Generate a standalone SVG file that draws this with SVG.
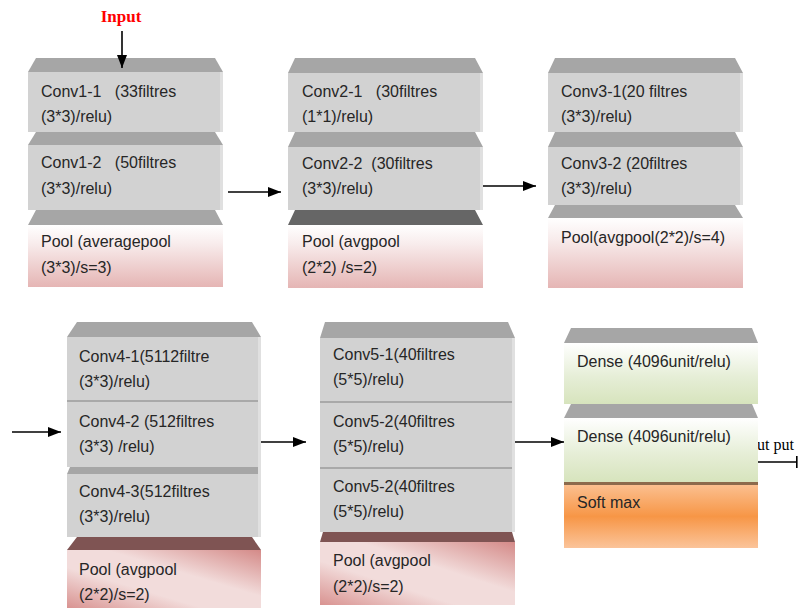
<svg xmlns="http://www.w3.org/2000/svg" width="799" height="609" viewBox="0 0 799 609">
  <style>
    .body { fill: #d2d2d2; }
    .edge { fill: #e0e0e0; }
    .bevel { fill: #a6a6a6; }
    .dark { fill: #666666; }
    .wine { fill: #7f5453; }
    .sep { fill: #a9a9a9; }
    .lbl { font-family: "Liberation Sans", Arial, sans-serif; font-size: 16px; fill: #262626; }
    .wire { stroke: #000; stroke-width: 1.6; fill: none; }
  </style>
  <defs>
    <marker id="head" markerUnits="userSpaceOnUse" markerWidth="14" markerHeight="10" refX="13" refY="5" orient="auto">
      <path d="M0,0 L13,5 L0,10 Z" fill="#000"/>
    </marker>
    <marker id="bar" markerUnits="userSpaceOnUse" markerWidth="4" markerHeight="12" refX="2" refY="6" orient="auto">
      <rect x="1" y="0" width="1.6" height="12" fill="#000"/>
    </marker>
    <linearGradient id="pinkFade" x1="0" y1="0" x2="0" y2="1">
      <stop offset="0" stop-color="#ffffff"/>
      <stop offset="0.3" stop-color="#f8ecec"/>
      <stop offset="1" stop-color="#e5b5b4"/>
    </linearGradient>
    <linearGradient id="pinkSheen" x1="0" y1="1" x2="1" y2="0">
      <stop offset="0" stop-color="#d99391"/>
      <stop offset="0.35" stop-color="#f2dcdb"/>
      <stop offset="0.6" stop-color="#f2dcdb"/>
      <stop offset="1" stop-color="#d48a88"/>
    </linearGradient>
    <linearGradient id="greenFade" x1="0" y1="0" x2="0" y2="1">
      <stop offset="0" stop-color="#ffffff"/>
      <stop offset="0.55" stop-color="#e6eed7"/>
      <stop offset="1" stop-color="#d7e4bd"/>
    </linearGradient>
    <linearGradient id="orangeBand" x1="0" y1="0" x2="0" y2="1">
      <stop offset="0" stop-color="#fbbf8f"/>
      <stop offset="0.5" stop-color="#f79646"/>
      <stop offset="1" stop-color="#fbc49a"/>
    </linearGradient>
  </defs>

  <!-- output label sits behind the dense block -->
  <text x="794" y="450" text-anchor="end" font-family="'Liberation Serif', 'Times New Roman', serif" font-size="16" fill="#000">Out put</text>

  <!-- Block 1 -->
  <g id="block1">
    <polygon class="bevel" points="36,58 215,58 223,72 28,72"/>
    <rect class="body" x="28" y="72" width="195" height="60"/>
    <rect class="edge" x="220" y="72" width="3" height="60"/>
    <polygon class="bevel" points="36,132 215,132 223,145 28,145"/>
    <rect class="body" x="28" y="145" width="195" height="65"/>
    <rect class="edge" x="220" y="145" width="3" height="65"/>
    <polygon class="bevel" points="36,210 215,210 223,225 28,225"/>
    <rect x="28" y="225" width="195" height="62" fill="url(#pinkFade)"/>
    <text class="lbl" x="41" y="97" xml:space="preserve">Conv1-1   (33filtres</text>
    <text class="lbl" x="41" y="122">(3*3)/relu)</text>
    <text class="lbl" x="41" y="168" xml:space="preserve">Conv1-2   (50filtres</text>
    <text class="lbl" x="41" y="194">(3*3)/relu)</text>
    <text class="lbl" x="41" y="247">Pool (averagepool</text>
    <text class="lbl" x="41" y="273">(3*3)/s=3)</text>
  </g>

  <!-- Block 2 -->
  <g id="block2">
    <polygon class="bevel" points="295,58 475,58 483,73 288,73"/>
    <rect class="body" x="288" y="73" width="195" height="59"/>
    <rect class="edge" x="480" y="73" width="3" height="59"/>
    <polygon class="bevel" points="295,132 475,132 483,147 288,147"/>
    <rect class="body" x="288" y="147" width="195" height="63"/>
    <rect class="edge" x="480" y="147" width="3" height="63"/>
    <polygon class="dark" points="295,210 475,210 483,225 288,225"/>
    <rect x="288" y="225" width="195" height="63" fill="url(#pinkFade)"/>
    <text class="lbl" x="302" y="97" xml:space="preserve">Conv2-1   (30filtres</text>
    <text class="lbl" x="302" y="122">(1*1)/relu)</text>
    <text class="lbl" x="302" y="169" xml:space="preserve">Conv2-2  (30filtres</text>
    <text class="lbl" x="302" y="194">(3*3)/relu)</text>
    <text class="lbl" x="302" y="247">Pool (avgpool</text>
    <text class="lbl" x="302" y="273">(2*2) /s=2)</text>
  </g>

  <!-- Block 3 -->
  <g id="block3">
    <polygon class="bevel" points="555,58 735,58 743,73 548,73"/>
    <rect class="body" x="548" y="73" width="195" height="59"/>
    <rect class="edge" x="740" y="73" width="3" height="59"/>
    <polygon class="bevel" points="555,132 735,132 743,147 548,147"/>
    <rect class="body" x="548" y="147" width="195" height="58"/>
    <rect class="edge" x="740" y="147" width="3" height="58"/>
    <polygon class="bevel" points="555,205 735,205 743,218 548,218"/>
    <rect x="548" y="218" width="195" height="70" fill="url(#pinkFade)"/>
    <text class="lbl" x="561" y="97">Conv3-1(20 filtres</text>
    <text class="lbl" x="561" y="122">(3*3)/relu)</text>
    <text class="lbl" x="561" y="169">Conv3-2 (20filtres</text>
    <text class="lbl" x="561" y="194">(3*3)/relu)</text>
    <text class="lbl" x="561" y="243">Pool(avgpool(2*2)/s=4)</text>
  </g>

  <!-- Block 4 -->
  <g id="block4">
    <polygon class="bevel" points="77,322 252,322 261,337 67,337"/>
    <rect class="body" x="67" y="337" width="194" height="63"/>
    <rect class="sep" x="67" y="400" width="194" height="2"/>
    <rect class="body" x="67" y="402" width="194" height="65"/>
    <polygon class="bevel" points="70,467 258,467 261,474 67,474"/>
    <rect class="body" x="67" y="474" width="194" height="63"/>
    <rect class="edge" x="258" y="337" width="3" height="200"/>
    <polygon class="wine" points="77,537 252,537 261,550 67,550"/>
    <rect x="67" y="550" width="194" height="58" fill="url(#pinkSheen)"/>
    <text class="lbl" x="79" y="362">Conv4-1(5112filtre</text>
    <text class="lbl" x="79" y="387">(3*3)/relu)</text>
    <text class="lbl" x="79" y="427">Conv4-2 (512filtres</text>
    <text class="lbl" x="79" y="452">(3*3) /relu)</text>
    <text class="lbl" x="79" y="497">Conv4-3(512filtres</text>
    <text class="lbl" x="79" y="522">(3*3)/relu)</text>
    <text class="lbl" x="79" y="575">Pool (avgpool</text>
    <text class="lbl" x="79" y="600">(2*2)/s=2)</text>
  </g>

  <!-- Block 5 -->
  <g id="block5">
    <polygon class="bevel" points="325,322 508,322 515,338 320,338"/>
    <rect class="body" x="320" y="338" width="195" height="63"/>
    <rect class="sep" x="320" y="401" width="195" height="2"/>
    <rect class="body" x="320" y="403" width="195" height="64"/>
    <rect class="sep" x="320" y="467" width="195" height="2"/>
    <rect class="body" x="320" y="469" width="195" height="63"/>
    <rect class="edge" x="512" y="338" width="3" height="194"/>
    <polygon class="wine" points="323,532 512,532 515,542 320,542"/>
    <rect x="320" y="542" width="195" height="63" fill="url(#pinkSheen)"/>
    <text class="lbl" x="333" y="360">Conv5-1(40filtres</text>
    <text class="lbl" x="333" y="385">(5*5)/relu)</text>
    <text class="lbl" x="333" y="427">Conv5-2(40filtres</text>
    <text class="lbl" x="333" y="452">(5*5)/relu)</text>
    <text class="lbl" x="333" y="492">Conv5-2(40filtres</text>
    <text class="lbl" x="333" y="517">(5*5)/relu)</text>
    <text class="lbl" x="333" y="566">Pool (avgpool</text>
    <text class="lbl" x="333" y="592">(2*2)/s=2)</text>
  </g>

  <!-- Block 6 -->
  <g id="block6">
    <polygon class="bevel" points="571,328 752,328 758,343 564,343"/>
    <rect x="564" y="343" width="194" height="61" fill="url(#greenFade)"/>
    <polygon class="bevel" points="571,404 752,404 758,418 564,418"/>
    <rect x="564" y="418" width="194" height="64" fill="url(#greenFade)"/>
    <rect x="564" y="482" width="194" height="3" fill="#8c6a4c"/>
    <rect x="564" y="485" width="194" height="63" fill="url(#orangeBand)"/>
    <text class="lbl" x="577" y="367">Dense (4096unit/relu)</text>
    <text class="lbl" x="577" y="442">Dense (4096unit/relu)</text>
    <text class="lbl" x="577" y="508">Soft max</text>
  </g>

  <!-- Input label -->
  <g id="input">
    <text x="121" y="22" text-anchor="middle" font-family="'Liberation Serif', 'Times New Roman', serif" font-size="17" font-weight="bold" fill="#ff0000">Input</text>
  </g>

  <!-- Connectors -->
  <g id="connectors">
    <line class="wire" x1="122" y1="31" x2="122" y2="68" marker-end="url(#head)"/>
    <line class="wire" x1="228" y1="192" x2="281" y2="192" marker-end="url(#head)"/>
    <line class="wire" x1="483" y1="186" x2="536" y2="186" marker-end="url(#head)"/>
    <line class="wire" x1="12" y1="432" x2="61" y2="432" marker-end="url(#head)"/>
    <line class="wire" x1="261" y1="442" x2="306" y2="442" marker-end="url(#head)"/>
    <line class="wire" x1="515" y1="442" x2="564" y2="442" marker-end="url(#head)"/>
    <line class="wire" x1="758" y1="462" x2="797" y2="462" marker-end="url(#bar)"/>
  </g>
</svg>
